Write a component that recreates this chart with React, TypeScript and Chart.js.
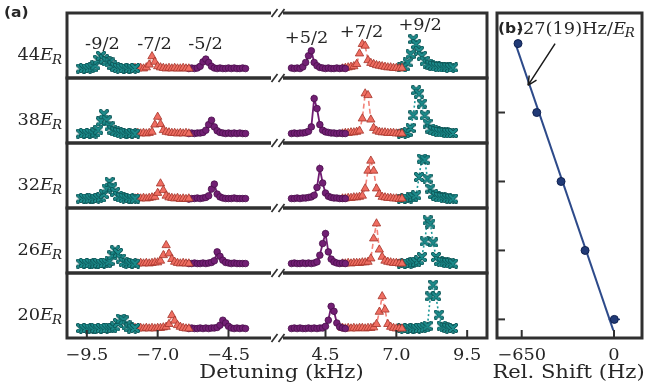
import React, { useEffect, useRef } from "react";
import { Chart, registerables } from "chart.js";

Chart.register(...registerables);

// ---------------- data ----------------
const DEPTHS = [44, 38, 32, 26, 20]; // lattice depth (E_R), rows top -> bottom
const PEAK_LABELS = ["-9/2", "-7/2", "-5/2", "+5/2", "+7/2", "+9/2"];
const PEAK_LABEL_POS: [number, number][] = [
  [-8.95, 0.36], [-7.11, 0.36], [-5.31, 0.36], [3.83, 0.46], [5.77, 0.57], [7.84, 0.69],
];
const X_TICKS_LEFT = [-9.5, -7.0, -4.5];
const X_TICKS_RIGHT = [4.5, 7.0, 9.5];

// scan grids (kHz)
const GRID_TEAL_L = [-9.7, -9.6, -9.5, -9.4, -9.3, -9.2, -9.1, -9.0, -8.9, -8.8, -8.7, -8.6, -8.5, -8.4, -8.3, -8.2, -8.1, -8.0, -7.9, -7.8];
const GRID_RED_L = [-7.8, -7.7, -7.6, -7.5, -7.4, -7.3, -7.2, -7.1, -7.0, -6.9, -6.8, -6.7, -6.6, -6.5, -6.4, -6.3, -6.2, -6.1, -6.0, -5.9];
const GRID_PUR_L = [-5.9, -5.8, -5.7, -5.6, -5.5, -5.4, -5.3, -5.2, -5.1, -5.0, -4.9, -4.8, -4.7, -4.6, -4.5, -4.4, -4.3, -4.2, -4.1, -4.0, -3.9];
const GRID_PUR_R = [3.3, 3.4, 3.5, 3.6, 3.7, 3.8, 3.9, 4.0, 4.1, 4.2, 4.3, 4.4, 4.5, 4.6, 4.7, 4.8, 4.9, 5.0, 5.1, 5.2];
const GRID_RED_R = [5.1, 5.2, 5.3, 5.4, 5.5, 5.6, 5.7, 5.8, 5.9, 6.0, 6.1, 6.2, 6.3, 6.4, 6.5, 6.6, 6.7, 6.8, 6.9, 7.0, 7.1, 7.2];
const GRID_TEAL_R = [7.2, 7.3, 7.4, 7.5, 7.6, 7.7, 7.8, 7.9, 8.0, 8.1, 8.2, 8.3, 8.4, 8.5, 8.6, 8.7, 8.8, 8.9, 9.0];

// signals per row (44, 38, 32, 26, 20 E_R)
const TEAL_L = [
  [0.00, 0.01, 0.00, 0.01, 0.02, 0.06, 0.16, 0.23, 0.17, 0.13, 0.11, 0.06, 0.03, 0.01, 0.00, 0.01, 0.00, 0.01, 0.00, 0.01],
  [0.00, 0.01, 0.00, 0.01, 0.00, 0.02, 0.07, 0.22, 0.35, 0.24, 0.13, 0.07, 0.04, 0.02, 0.01, 0.00, 0.01, 0.00, 0.01, 0.00],
  [0.00, 0.01, 0.00, 0.00, 0.01, 0.00, 0.01, 0.02, 0.08, 0.18, 0.30, 0.20, 0.12, 0.05, 0.02, 0.01, 0.00, 0.01, 0.00, 0.00],
  [0.00, 0.01, 0.00, 0.01, 0.00, 0.00, 0.01, 0.00, 0.01, 0.01, 0.05, 0.15, 0.24, 0.19, 0.09, 0.03, 0.01, 0.00, 0.01, 0.00],
  [0.01, 0.00, 0.01, 0.00, 0.00, 0.01, 0.00, 0.01, 0.00, 0.01, 0.01, 0.01, 0.04, 0.10, 0.18, 0.15, 0.06, 0.02, 0.00, 0.01],
];
const RED_L = [
  [0.01, 0.00, 0.01, 0.00, 0.02, 0.07, 0.22, 0.12, 0.04, 0.02, 0.01, 0.00, 0.01, 0.00, 0.01, 0.00, 0.00, 0.01, 0.00, 0.00],
  [0.00, 0.01, 0.00, 0.01, 0.00, 0.01, 0.03, 0.16, 0.30, 0.17, 0.06, 0.03, 0.02, 0.01, 0.01, 0.00, 0.01, 0.00, 0.01, 0.00],
  [0.00, 0.01, 0.00, 0.01, 0.00, 0.01, 0.02, 0.03, 0.10, 0.27, 0.15, 0.05, 0.02, 0.01, 0.00, 0.01, -0.01, 0.00, -0.01, 0.00],
  [0.00, 0.00, 0.01, 0.00, 0.01, 0.00, 0.01, 0.02, 0.02, 0.05, 0.15, 0.33, 0.18, 0.08, 0.03, 0.01, 0.00, 0.01, 0.00, 0.00],
  [0.01, 0.00, 0.01, 0.00, 0.01, 0.00, 0.01, 0.00, 0.01, 0.01, 0.02, 0.03, 0.08, 0.24, 0.14, 0.06, 0.03, 0.01, 0.00, 0.00],
];
const PUR_L = [
  [0.00, 0.01, 0.00, 0.01, 0.04, 0.12, 0.17, 0.11, 0.04, 0.01, 0.00, 0.01, 0.00, 0.00, 0.01, 0.00, 0.01, 0.00, 0.00, 0.01, 0.00],
  [0.00, 0.01, 0.00, 0.01, 0.01, 0.02, 0.06, 0.16, 0.24, 0.12, 0.05, 0.02, 0.01, 0.00, 0.01, 0.00, 0.01, 0.00, 0.01, 0.00, 0.00],
  [-0.01, 0.00, 0.00, 0.01, 0.00, 0.01, 0.02, 0.05, 0.17, 0.26, 0.08, 0.03, 0.01, 0.00, 0.00, 0.00, 0.01, 0.00, 0.00, 0.00, 0.00],
  [0.00, 0.00, 0.01, 0.00, 0.00, 0.01, 0.00, 0.01, 0.02, 0.05, 0.21, 0.13, 0.06, 0.02, 0.01, 0.00, 0.01, 0.00, 0.00, 0.00, 0.00],
  [0.00, 0.01, 0.00, 0.00, 0.01, 0.00, 0.01, 0.00, 0.01, 0.01, 0.02, 0.06, 0.15, 0.10, 0.04, 0.01, 0.00, 0.01, 0.00, 0.01, 0.00],
];
const PUR_R = [
  [0.01, 0.00, 0.01, 0.00, 0.03, 0.11, 0.23, 0.32, 0.11, 0.05, 0.02, 0.01, 0.00, 0.01, 0.00, 0.00, 0.01, 0.00, 0.01, 0.00],
  [0.00, 0.01, 0.00, 0.01, 0.01, 0.02, 0.04, 0.12, 0.63, 0.45, 0.16, 0.06, 0.03, 0.02, 0.01, 0.01, 0.00, 0.01, 0.00, 0.00],
  [0.00, 0.00, 0.01, 0.00, 0.01, 0.01, 0.02, 0.03, 0.06, 0.20, 0.54, 0.28, 0.10, 0.04, 0.02, 0.01, 0.01, 0.00, 0.00, 0.00],
  [0.00, 0.01, 0.00, 0.00, 0.01, 0.00, 0.01, 0.00, 0.01, 0.03, 0.15, 0.36, 0.54, 0.21, 0.08, 0.03, 0.01, 0.00, 0.01, 0.00],
  [0.00, 0.01, 0.00, 0.01, 0.00, 0.00, 0.01, 0.00, 0.01, 0.00, 0.01, 0.01, 0.04, 0.15, 0.40, 0.31, 0.10, 0.03, 0.01, 0.00],
];
const RED_R = [
  [0.00, 0.01, 0.02, 0.03, 0.04, 0.08, 0.27, 0.44, 0.41, 0.15, 0.10, 0.08, 0.06, 0.05, 0.04, 0.03, 0.02, 0.02, 0.01, 0.01, 0.00, 0.01],
  [0.00, 0.01, 0.01, 0.02, 0.02, 0.03, 0.05, 0.27, 0.72, 0.69, 0.25, 0.10, 0.05, 0.03, 0.02, 0.02, 0.01, 0.01, 0.01, 0.00, 0.00, 0.00],
  [0.00, 0.00, 0.01, 0.01, 0.02, 0.02, 0.03, 0.05, 0.18, 0.50, 0.68, 0.50, 0.18, 0.08, 0.03, 0.02, 0.01, 0.01, 0.00, 0.00, -0.01, 0.00],
  [0.00, 0.00, 0.01, 0.00, 0.01, 0.01, 0.01, 0.02, 0.02, 0.03, 0.09, 0.45, 0.72, 0.25, 0.12, 0.05, 0.03, 0.02, 0.01, 0.01, 0.00, 0.00],
  [0.01, 0.00, 0.01, 0.00, 0.01, 0.00, 0.01, 0.01, 0.00, 0.01, 0.01, 0.02, 0.08, 0.30, 0.58, 0.34, 0.08, 0.03, 0.01, 0.00, 0.00, 0.00],
];
const TEAL_R = [
  [0.02, 0.04, 0.11, 0.26, 0.53, 0.44, 0.32, 0.23, 0.14, 0.09, 0.07, 0.05, 0.04, 0.03, 0.03, 0.02, 0.02, 0.01, 0.02],
  [0.00, 0.01, 0.03, 0.10, 0.33, 0.78, 0.72, 0.54, 0.33, 0.18, 0.09, 0.06, 0.04, 0.03, 0.02, 0.02, 0.01, 0.01, 0.01],
  [0.00, 0.01, 0.00, 0.02, 0.03, 0.06, 0.39, 0.72, 0.70, 0.36, 0.18, 0.08, 0.05, 0.03, 0.02, 0.01, 0.01, 0.00, 0.00],
  [0.00, 0.01, 0.00, 0.01, 0.02, 0.03, 0.06, 0.12, 0.40, 0.78, 0.72, 0.38, 0.12, 0.05, 0.03, 0.02, 0.01, 0.01, 0.00],
  [0.01, 0.00, 0.01, 0.00, 0.01, 0.00, 0.01, 0.01, 0.02, 0.05, 0.58, 0.79, 0.58, 0.25, 0.05, 0.02, 0.01, 0.00, 0.01],
];

// panel (b)
const SHIFT_HZ = [-676, -544, -373, -204, 2];
const SHIFT_ERR = [10, 10, 10, 10, 40];
const FIT_X = [-694, -5];
const FIT_Y = [44, 19.04];
const SHIFT_TICKS = [-650, 0];
const DEPTH_TICKS = [20, 26, 32, 38];
const FIT_LABEL = "-27(19)Hz/";
const FIT_LABEL_POS = [-683, 44.86];
const ARROW_FROM = [-415, 44.0];
const ARROW_TO = [-606, 40.36];

// ---------------- styling helpers ----------------
const SERIF = '"DejaVu Serif", serif';
const SANS = '"DejaVu Sans", sans-serif';
const SX = 1.11;
const TEXT = "#262626";
const FRAME = "#303030";

function txt(ctx: CanvasRenderingContext2D, s: string, x: number, y: number, font: string, align = "left") {
  ctx.save();
  ctx.font = font;
  const w = ctx.measureText(s).width * SX;
  const x0 = align === "left" ? x : align === "right" ? x - w : x - w / 2;
  ctx.translate(x0, y);
  ctx.scale(SX, 1);
  ctx.textAlign = "left";
  ctx.textBaseline = "alphabetic";
  ctx.fillStyle = TEXT;
  ctx.fillText(s, 0, 0);
  ctx.restore();
  return w;
}

function txtER(ctx: CanvasRenderingContext2D, prefix: string, x: number, y: number, size: number, align = "left") {
  const fN = `${size}px ${SERIF}`;
  const fI = `italic ${size}px ${SERIF}`;
  const fS = `italic ${Math.round(size * 0.72)}px ${SERIF}`;
  ctx.save();
  ctx.font = fN;
  const w1 = ctx.measureText(prefix).width * SX;
  ctx.font = fI;
  const w2 = ctx.measureText("E").width * SX;
  ctx.font = fS;
  const w3 = ctx.measureText("R").width * SX;
  ctx.restore();
  const total = w1 + w2 + w3;
  const x0 = align === "left" ? x : align === "right" ? x - total : x - total / 2;
  txt(ctx, prefix, x0, y, fN);
  txt(ctx, "E", x0 + w1, y, fI);
  txt(ctx, "R", x0 + w1 + w2 - 1, y + size * 0.22, fS);
}

function fmtTick(v: number, digits: number) {
  const s = Math.abs(v).toFixed(digits);
  return v < 0 ? "\u2212" + s : s;
}

function makeXMarker() {
  const c = document.createElement("canvas");
  c.width = 10;
  c.height = 10;
  const g = c.getContext("2d")!;
  g.beginPath();
  g.moveTo(1.8, 1.8);
  g.lineTo(8.2, 8.2);
  g.moveTo(8.2, 1.8);
  g.lineTo(1.8, 8.2);
  g.lineCap = "round";
  g.strokeStyle = "#0d5556";
  g.lineWidth = 3.8;
  g.stroke();
  g.strokeStyle = "#1d8d8d";
  g.lineWidth = 2.2;
  g.stroke();
  return c;
}

// ---------------- panel (a) ----------------
const panelAPlugin = {
  id: "panelA",
  afterDatasetsDraw(chart: any) {
    const ctx: CanvasRenderingContext2D = chart.ctx;
    const xL = chart.scales.xL;
    const xR = chart.scales.xR;
    const rows = DEPTHS.map((_, i) => chart.scales["y" + i]);
    ctx.save();
    ctx.strokeStyle = FRAME;
    ctx.lineWidth = 3;
    ctx.lineJoin = "miter";
    rows.forEach((ys: any) => {
      ctx.beginPath();
      ctx.moveTo(xL.right, ys.top);
      ctx.lineTo(xL.left, ys.top);
      ctx.lineTo(xL.left, ys.bottom);
      ctx.lineTo(xL.right, ys.bottom);
      ctx.moveTo(xR.left, ys.top);
      ctx.lineTo(xR.right, ys.top);
      ctx.lineTo(xR.right, ys.bottom);
      ctx.lineTo(xR.left, ys.bottom);
      ctx.stroke();
    });
    // axis break marks
    const ySet = new Set<number>();
    rows.forEach((r: any) => {
      ySet.add(Math.round(r.top * 10) / 10);
      ySet.add(Math.round(r.bottom * 10) / 10);
    });
    ctx.lineWidth = 1.7;
    ySet.forEach((y) => {
      [xL.right + 3.5, xR.left - 1.5].forEach((cx) => {
        ctx.beginPath();
        ctx.moveTo(cx - 3, y + 4);
        ctx.lineTo(cx + 3, y - 4);
        ctx.stroke();
      });
    });
    // inward ticks on bottom row + labels
    const bottom = rows[rows.length - 1].bottom;
    ctx.lineWidth = 2;
    ([[xL, X_TICKS_LEFT], [xR, X_TICKS_RIGHT]] as any[]).forEach(([sc, ticks]) => {
      ticks.forEach((v: number) => {
        const px = sc.getPixelForValue(v);
        ctx.beginPath();
        ctx.moveTo(px, bottom);
        ctx.lineTo(px, bottom - 8);
        ctx.stroke();
        txt(ctx, fmtTick(v, 1), px, bottom + 21.5, `16px ${SERIF}`, "center");
      });
    });
    // row labels
    rows.forEach((r: any, i: number) => {
      txtER(ctx, String(DEPTHS[i]), 63, (r.top + r.bottom) / 2 + 14.5, 16, "right");
    });
    // peak labels
    PEAK_LABELS.forEach((s, k) => {
      const [x, y] = PEAK_LABEL_POS[k];
      const sc = x < 0 ? xL : xR;
      txt(ctx, s, sc.getPixelForValue(x), rows[0].getPixelForValue(y), `16px ${SERIF}`, "center");
    });
    // axis title
    txt(ctx, "Detuning (kHz)", (xL.left + xR.right) / 2 + 4.5, 378, `19px ${SERIF}`, "center");
    // panel tag
    txt(ctx, "(a)", 4, 17, `bold 14px ${SANS}`, "left");
    ctx.restore();
  },
};

function buildPanelA(xMark: HTMLCanvasElement) {
  const styles: Record<string, any> = {
    teal: {
      borderColor: "#1e9898",
      borderWidth: 1.6,
      borderDash: [2, 2.5],
      pointStyle: xMark,
      pointRadius: 4,
    },
    red: {
      borderColor: "#f2837a",
      borderWidth: 1.6,
      borderDash: [5, 3],
      pointStyle: "triangle",
      pointRadius: 4.8,
      pointBackgroundColor: "#ef6e62",
      pointBorderColor: "#a5342a",
      pointBorderWidth: 0.8,
    },
    purple: {
      borderColor: "#701c72",
      borderWidth: 1.8,
      pointStyle: "circle",
      pointRadius: 3.3,
      pointBackgroundColor: "#721f74",
      pointBorderColor: "#4a0f4b",
      pointBorderWidth: 0.8,
    },
  };
  const segments = [
    { grid: GRID_TEAL_L, values: TEAL_L, axis: "xL", kind: "teal" },
    { grid: GRID_RED_L, values: RED_L, axis: "xL", kind: "red" },
    { grid: GRID_PUR_L, values: PUR_L, axis: "xL", kind: "purple" },
    { grid: GRID_PUR_R, values: PUR_R, axis: "xR", kind: "purple" },
    { grid: GRID_RED_R, values: RED_R, axis: "xR", kind: "red" },
    { grid: GRID_TEAL_R, values: TEAL_R, axis: "xR", kind: "teal" },
  ];
  const datasets: any[] = [];
  DEPTHS.forEach((_, i) => {
    segments.forEach((seg) => {
      datasets.push({
        data: seg.grid.map((x, j) => ({ x, y: seg.values[i][j] })),
        xAxisID: seg.axis,
        yAxisID: "y" + i,
        showLine: true,
        ...styles[seg.kind],
      });
    });
  });

  const hidden = { grid: { display: false }, border: { display: false }, ticks: { display: false } };
  const scales: Record<string, any> = {};
  DEPTHS.forEach((_, i) => {
    scales["y" + i] = {
      type: "linear",
      position: "left",
      stack: "rows",
      stackWeight: 1,
      weight: 10 - i,
      min: -0.17,
      max: 1.0,
      ...hidden,
      afterFit: (s: any) => {
        s.width = 67;
      },
    };
  });
  const xBase = (w: number, weight: number, min: number, max: number) => ({
    type: "linear",
    position: "bottom",
    stack: "cols",
    stackWeight: w,
    weight,
    min,
    max,
    ...hidden,
    afterFit: (s: any) => {
      s.height = 47;
    },
  });
  scales.xL = xBase(204, 1, -10.2, -3.0);
  scales.xG = xBase(12, 2, 0, 1);
  scales.xR = xBase(204, 3, 3.0, 10.2);

  return {
    type: "scatter",
    data: { datasets },
    options: {
      responsive: false,
      animation: false,
      events: [],
      layout: { padding: { left: 0, top: 13, right: 165, bottom: 0 } },
      plugins: { legend: { display: false }, tooltip: { enabled: false } },
      scales,
    },
    plugins: [panelAPlugin],
  } as any;
}

// ---------------- panel (b) ----------------
const panelBPlugin = {
  id: "panelB",
  beforeDatasetsDraw(chart: any) {
    const ctx: CanvasRenderingContext2D = chart.ctx;
    const xs = chart.scales.x;
    const ys = chart.scales.y;
    ctx.save();
    ctx.strokeStyle = "#243d78";
    ctx.lineWidth = 1.5;
    SHIFT_HZ.forEach((v, i) => {
      const y = ys.getPixelForValue(DEPTHS[i]);
      ctx.beginPath();
      ctx.moveTo(xs.getPixelForValue(v - SHIFT_ERR[i]), y);
      ctx.lineTo(xs.getPixelForValue(v + SHIFT_ERR[i]), y);
      ctx.stroke();
    });
    ctx.restore();
  },
  afterDatasetsDraw(chart: any) {
    const ctx: CanvasRenderingContext2D = chart.ctx;
    const xs = chart.scales.x;
    const ys = chart.scales.y;
    const a = chart.chartArea;
    ctx.save();
    ctx.strokeStyle = FRAME;
    ctx.lineWidth = 3;
    ctx.strokeRect(a.left, a.top, a.right - a.left, a.bottom - a.top);
    ctx.lineWidth = 2;
    DEPTH_TICKS.forEach((d) => {
      const y = ys.getPixelForValue(d);
      ctx.beginPath();
      ctx.moveTo(a.left, y);
      ctx.lineTo(a.left + 8, y);
      ctx.stroke();
    });
    SHIFT_TICKS.forEach((v) => {
      const x = xs.getPixelForValue(v);
      ctx.beginPath();
      ctx.moveTo(x, a.bottom);
      ctx.lineTo(x, a.bottom - 8);
      ctx.stroke();
      txt(ctx, fmtTick(v, 0), x, a.bottom + 21.5, `16px ${SERIF}`, "center");
    });
    // arrow
    const x1 = xs.getPixelForValue(ARROW_FROM[0]);
    const y1 = ys.getPixelForValue(ARROW_FROM[1]);
    const x2 = xs.getPixelForValue(ARROW_TO[0]);
    const y2 = ys.getPixelForValue(ARROW_TO[1]);
    ctx.strokeStyle = "#1a1a1a";
    ctx.lineWidth = 1.5;
    ctx.beginPath();
    ctx.moveTo(x1, y1);
    ctx.lineTo(x2, y2);
    const ang = Math.atan2(y2 - y1, x2 - x1);
    [0.45, -0.45].forEach((da) => {
      ctx.moveTo(x2, y2);
      ctx.lineTo(x2 - 10 * Math.cos(ang + da), y2 - 10 * Math.sin(ang + da));
    });
    ctx.stroke();
    txtER(ctx, FIT_LABEL, xs.getPixelForValue(FIT_LABEL_POS[0]), ys.getPixelForValue(FIT_LABEL_POS[1]), 16, "left");
    txt(ctx, "(b)", a.left + 1, a.top + 20, `bold 14px ${SANS}`, "left");
    txt(ctx, "Rel. Shift (Hz)", (a.left + a.right) / 2 - 1, 378, `19px ${SERIF}`, "center");
    ctx.restore();
  },
};

function buildPanelB() {
  const hidden = { grid: { display: false }, border: { display: false }, ticks: { display: false } };
  return {
    type: "scatter",
    data: {
      datasets: [
        {
          data: SHIFT_HZ.map((x, i) => ({ x, y: DEPTHS[i] })),
          pointRadius: 4,
          pointBackgroundColor: "#213a76",
          pointBorderColor: "#0f2150",
          pointBorderWidth: 1,
          showLine: false,
        },
        {
          data: FIT_X.map((x, i) => ({ x, y: FIT_Y[i] })),
          showLine: true,
          pointRadius: 0,
          borderColor: "#2d4a8a",
          borderWidth: 2,
        },
      ],
    },
    options: {
      responsive: false,
      animation: false,
      events: [],
      layout: { padding: { left: 497, top: 13, right: 10, bottom: 0 } },
      plugins: { legend: { display: false }, tooltip: { enabled: false } },
      scales: {
        x: {
          type: "linear",
          position: "bottom",
          min: -824,
          max: 197,
          ...hidden,
          afterFit: (s: any) => {
            s.height = 47;
          },
        },
        y: {
          type: "linear",
          position: "left",
          min: 18.38,
          max: 46.66,
          ...hidden,
          afterFit: (s: any) => {
            s.width = 0;
          },
        },
      },
    },
    plugins: [panelBPlugin],
  } as any;
}

export default function App() {
  const refA = useRef<HTMLCanvasElement>(null);
  const refB = useRef<HTMLCanvasElement>(null);
  useEffect(() => {
    const xMark = makeXMarker();
    const chartA = new Chart(refA.current!, buildPanelA(xMark));
    const chartB = new Chart(refB.current!, buildPanelB());
    return () => {
      chartA.destroy();
      chartB.destroy();
    };
  }, []);
  return (
    <div style={{ position: "fixed", left: 0, top: 0, width: 652, height: 385, background: "#fff" }}>
      <canvas ref={refA} width={652} height={385} style={{ position: "absolute", left: 0, top: 0 }} />
      <canvas ref={refB} width={652} height={385} style={{ position: "absolute", left: 0, top: 0 }} />
    </div>
  );
}
